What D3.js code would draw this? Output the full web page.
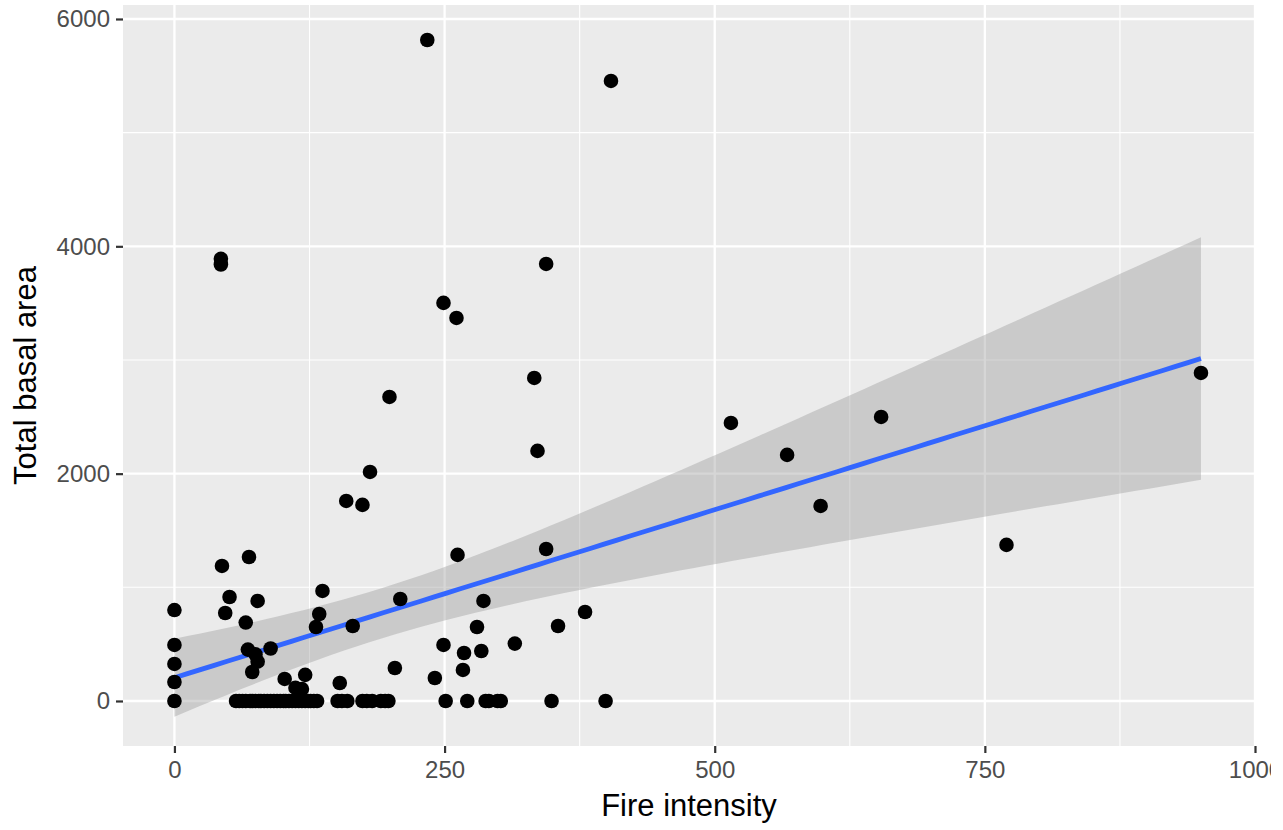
<!DOCTYPE html>
<html>
<head>
<meta charset="utf-8">
<script src="https://cdn.jsdelivr.net/npm/d3@7"></script>
<style>
  body { margin: 0; background: #fff; }
  svg { display: block; font-family: Arial, "Liberation Sans", sans-serif; overflow: hidden; }
</style>
</head>
<body>
<svg id="chart"></svg>
<script>
// data (the zero row holds many overlapping points)
const fireIntensity = [
  0, 0, 0, 0, 0,
  43, 43, 44, 47, 51, 66, 68, 69, 72, 75, 77, 77, 89, 102, 112, 118, 121,
  131, 134, 137, 153, 159, 165, 174, 181, 199, 204, 209, 234, 241, 249, 249,
  261, 262, 267, 268, 280, 284, 286, 315, 333, 336, 344, 344, 355, 380, 404,
  515, 567, 598, 654, 770, 950,
  // zero row
  57, 60, 63, 66, 70, 72, 75, 78, 80, 83, 86, 89, 92, 95, 98, 101, 103, 106,
  109, 112, 115, 118, 121, 124, 126, 129, 132,
  151, 155, 160, 174, 178, 183, 191, 195, 198, 251, 271, 288, 291, 299, 302, 349, 399
];
const basalArea = [
  800, 493, 326, 167, 0,
  3890, 3840, 1188, 774, 915, 690, 452, 1267, 255, 410, 346, 880, 462, 194, 115, 105, 230,
  651, 765, 968, 158, 1760, 660, 1725, 2015, 2675, 290, 897, 5815, 202, 493, 3502,
  3370, 1285, 273, 422, 651, 440, 880, 505, 2842, 2200, 3845, 1337, 660, 783, 5455,
  2446, 2165, 1716, 2499, 1373, 2886,
  0, 0, 0, 0, 0, 0, 0, 0, 0, 0, 0, 0, 0, 0, 0, 0, 0, 0,
  0, 0, 0, 0, 0, 0, 0, 0, 0,
  0, 0, 0, 0, 0, 0, 0, 0, 0, 0, 0, 0, 0, 0, 0, 0, 0
];

const xTicks = [0, 250, 500, 750, 1000];
const xMinor = [125, 375, 625, 875];
const yTicks = [0, 2000, 4000, 6000];
const yMinor = [1000, 3000, 5000];
const xDomain = [-47.6, 1000];
const yDomain = [-396, 6123];

const W = 1271, H = 830;
const panel = {left: 123, right: 1255, top: 5, bottom: 746};

const svg = d3.select('#chart').attr('width', W).attr('height', H);

const x = d3.scaleLinear().domain(xDomain).range([panel.left, panel.right]);
const y = d3.scaleLinear().domain(yDomain).range([panel.bottom, panel.top]);

// panel background + grid
svg.append('rect')
  .attr('x', panel.left).attr('y', panel.top)
  .attr('width', panel.right - panel.left).attr('height', panel.bottom - panel.top)
  .attr('fill', '#EBEBEB');

const grid = svg.append('g');
grid.selectAll('.xminor').data(xMinor).enter().append('line')
  .attr('x1', d => x(d)).attr('x2', d => x(d))
  .attr('y1', panel.top).attr('y2', panel.bottom)
  .attr('stroke', '#fff').attr('stroke-width', 1.1);
grid.selectAll('.yminor').data(yMinor).enter().append('line')
  .attr('y1', d => y(d)).attr('y2', d => y(d))
  .attr('x1', panel.left).attr('x2', panel.right)
  .attr('stroke', '#fff').attr('stroke-width', 1.1);
grid.selectAll('.xmajor').data(xTicks).enter().append('line')
  .attr('x1', d => x(d)).attr('x2', d => x(d))
  .attr('y1', panel.top).attr('y2', panel.bottom)
  .attr('stroke', '#fff').attr('stroke-width', 2.3);
grid.selectAll('.ymajor').data(yTicks).enter().append('line')
  .attr('y1', d => y(d)).attr('y2', d => y(d))
  .attr('x1', panel.left).attr('x2', panel.right)
  .attr('stroke', '#fff').attr('stroke-width', 2.3);

// linear fit with 95% confidence band (like geom_smooth(method = 'lm'))
const n = fireIntensity.length;
const xbar = d3.mean(fireIntensity), ybar = d3.mean(basalArea);
let sxx = 0, sxy = 0;
for (let i = 0; i < n; i++) {
  sxx += (fireIntensity[i] - xbar) ** 2;
  sxy += (fireIntensity[i] - xbar) * (basalArea[i] - ybar);
}
const slope = sxy / sxx;
const intercept = ybar - slope * xbar;
let sse = 0;
for (let i = 0; i < n; i++) sse += (basalArea[i] - intercept - slope * fireIntensity[i]) ** 2;
const s = Math.sqrt(sse / (n - 2));
const df = n - 2, z = 1.959964;
const tq = z + (z ** 3 + z) / (4 * df) + (5 * z ** 5 + 16 * z ** 3 + 3 * z) / (96 * df * df);

const [xmin, xmax] = d3.extent(fireIntensity);
const fit = d3.range(80).map(i => {
  const xv = xmin + (xmax - xmin) * i / 79;
  const yv = intercept + slope * xv;
  const se = s * Math.sqrt(1 / n + (xv - xbar) ** 2 / sxx);
  return {x: xv, y: yv, lo: yv - tq * se, hi: yv + tq * se};
});

svg.append('path')
  .datum(fit)
  .attr('d', d3.area().x(d => x(d.x)).y0(d => y(d.lo)).y1(d => y(d.hi)))
  .attr('fill', '#999999').attr('fill-opacity', 0.4);

svg.append('path')
  .datum(fit)
  .attr('d', d3.line().x(d => x(d.x)).y(d => y(d.y)))
  .attr('fill', 'none').attr('stroke', '#3366FF').attr('stroke-width', 4.8);

// points
svg.append('g').selectAll('circle')
  .data(fireIntensity.map((v, i) => [v, basalArea[i]]))
  .enter().append('circle')
  .attr('cx', d => x(d[0])).attr('cy', d => y(d[1]))
  .attr('r', 7.3).attr('fill', '#000');

// axes
const xAxis = svg.append('g')
  .attr('transform', 'translate(0,' + panel.bottom + ')')
  .call(d3.axisBottom(x).tickValues(xTicks).tickSize(7).tickPadding(8).tickFormat(d3.format('d')));
const yAxis = svg.append('g')
  .attr('transform', 'translate(' + panel.left + ',0)')
  .call(d3.axisLeft(y).tickValues(yTicks).tickSize(7).tickPadding(6).tickFormat(d3.format('d')));

[xAxis, yAxis].forEach(ax => {
  ax.select('.domain').remove();
  ax.selectAll('.tick line').attr('stroke', '#333333').attr('stroke-width', 2.2);
  ax.selectAll('.tick text').attr('fill', '#4D4D4D').style('font-size', '24px')
    .style('font-family', 'Arial, "Liberation Sans", sans-serif');
});

// axis titles
svg.append('text')
  .attr('x', (panel.left + panel.right) / 2)
  .attr('y', 816)
  .attr('text-anchor', 'middle')
  .style('font-size', '31px')
  .attr('fill', '#000')
  .text('Fire intensity');

svg.append('text')
  .attr('transform', 'translate(36,' + (panel.top + panel.bottom) / 2 + ') rotate(-90)')
  .attr('text-anchor', 'middle')
  .style('font-size', '31px')
  .attr('fill', '#000')
  .text('Total basal area');
</script>
</body>
</html>
